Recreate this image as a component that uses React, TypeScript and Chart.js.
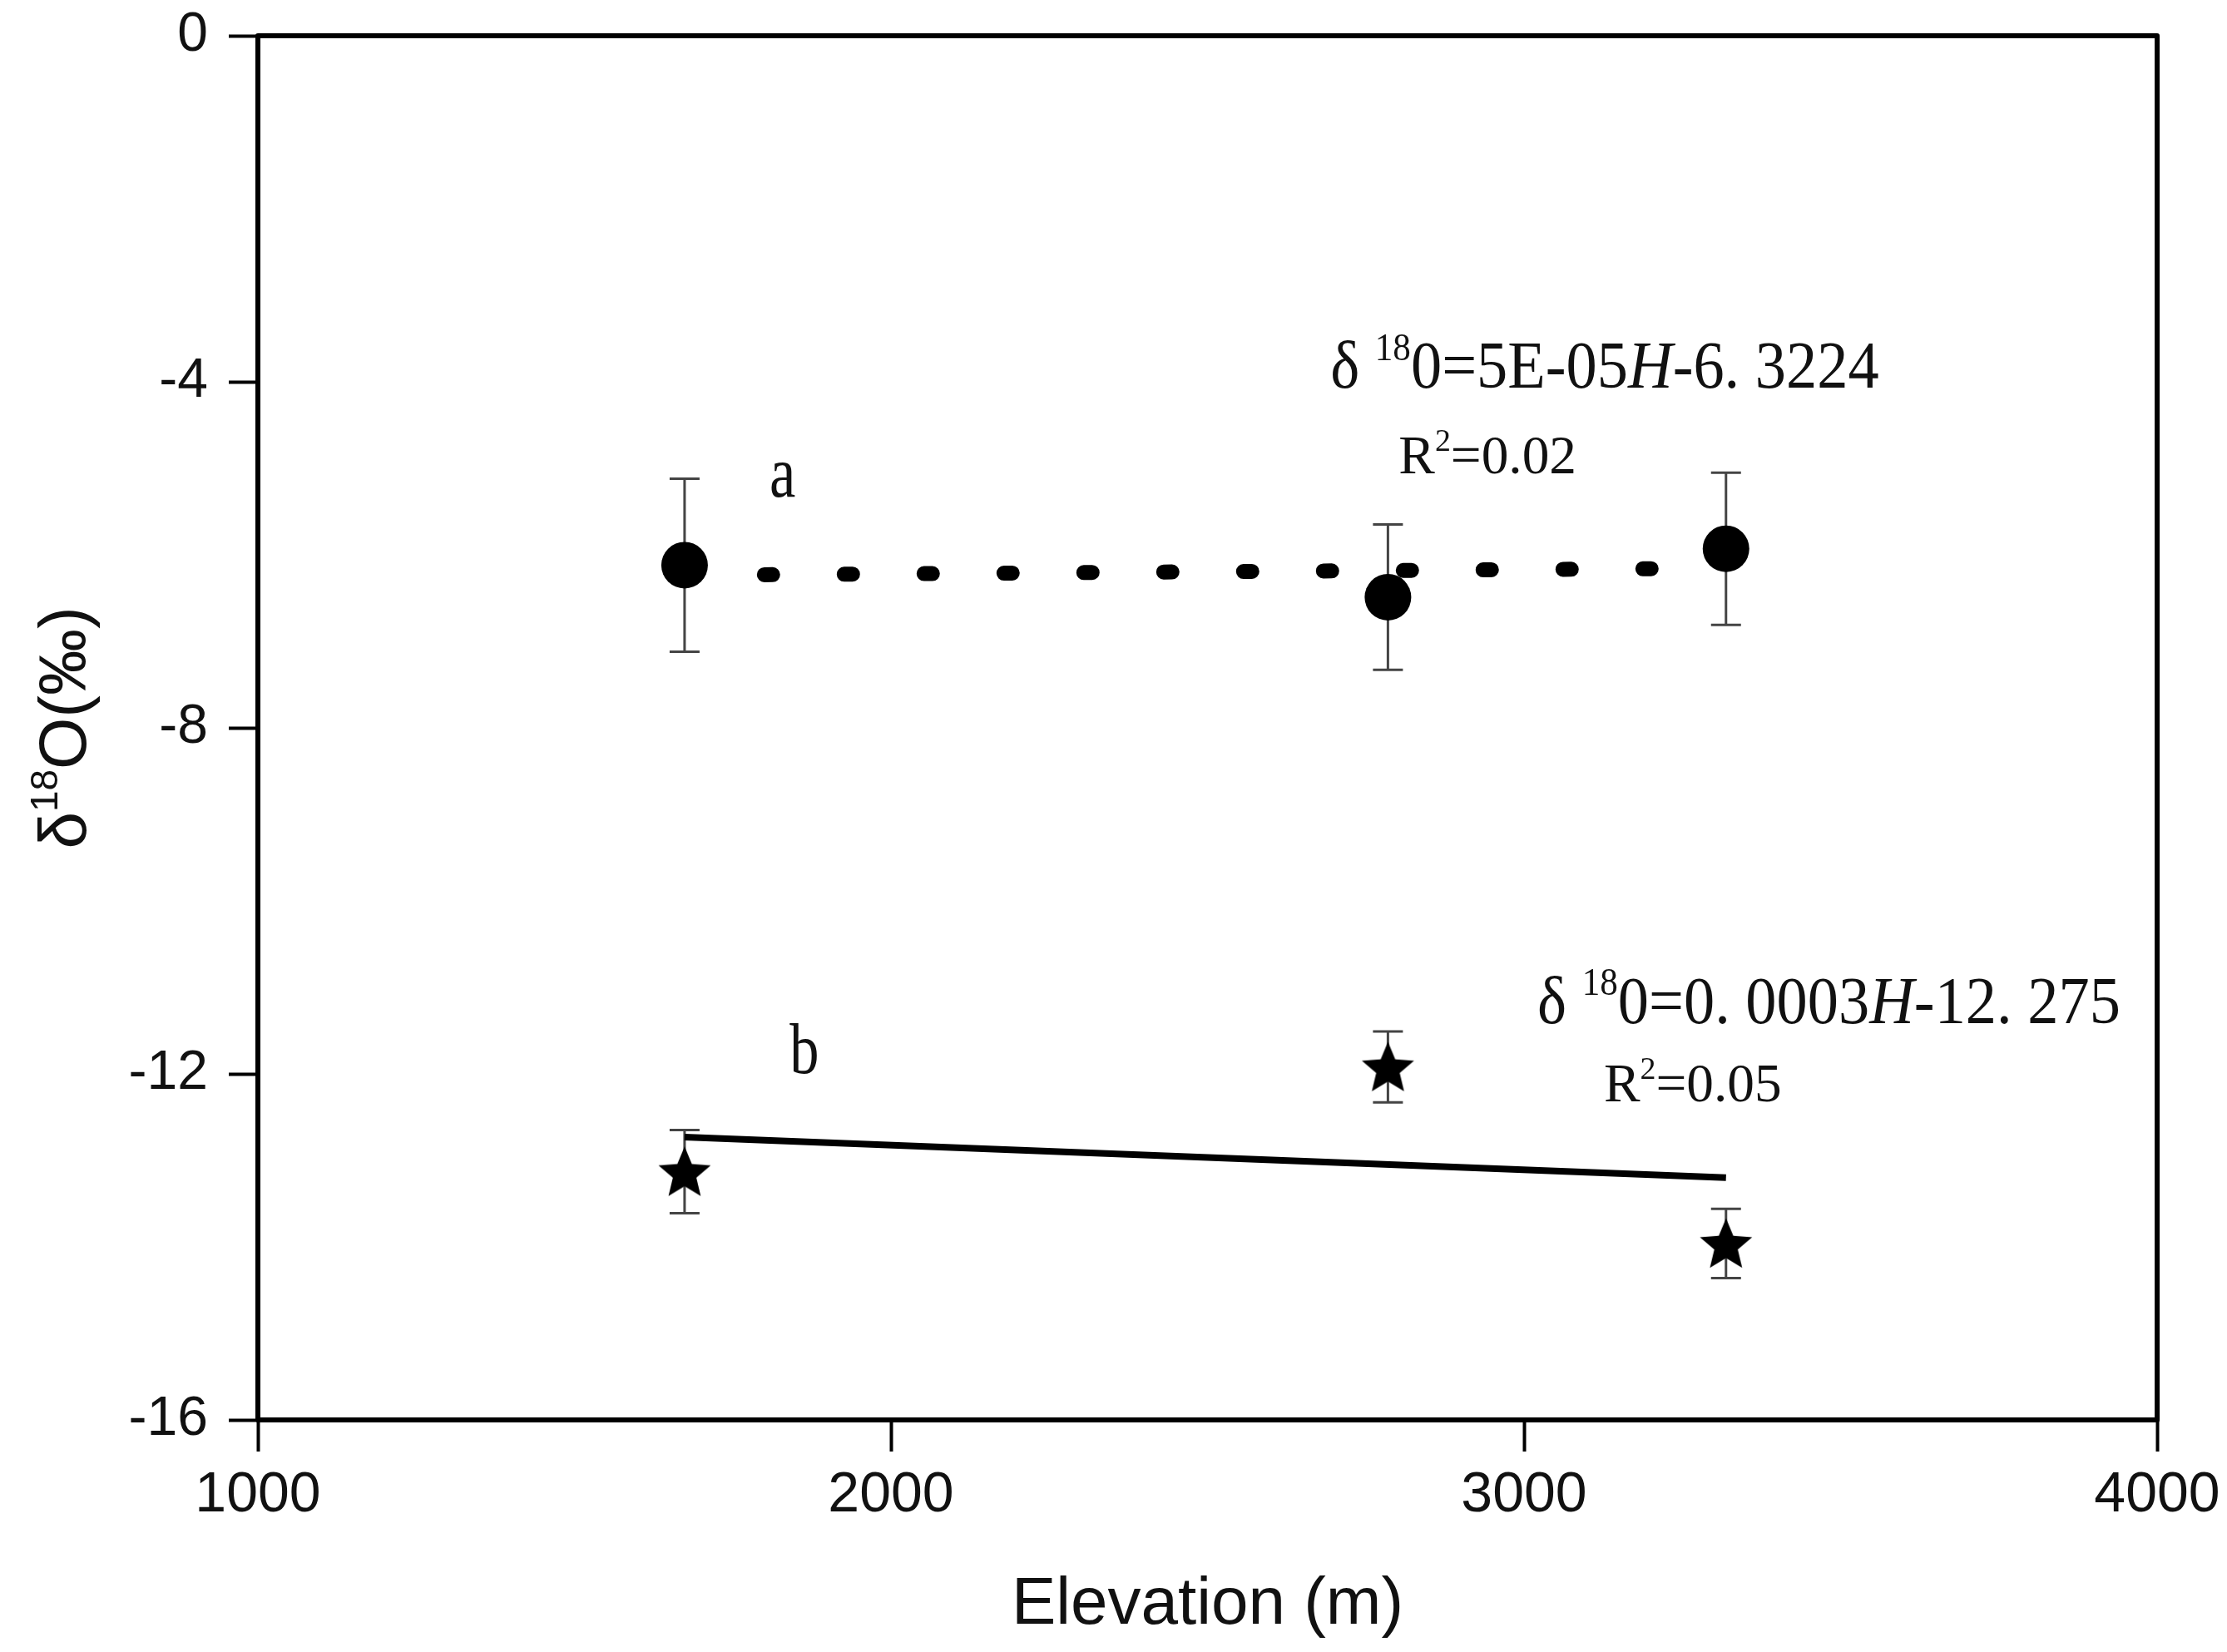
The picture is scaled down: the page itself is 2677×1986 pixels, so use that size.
import { useRef, useEffect } from "react";
import { Chart, registerables } from "chart.js";

Chart.register(...registerables);

// elevation of the three sites (m)
const elevations = [1674, 2785, 3319];

// series a (circles) and series b (stars), delta 18O in permil
const seriesA = [-6.12, -6.49, -5.93];
const errorsA = [1.0, 0.84, 0.88];
const seriesB = [-13.13, -11.92, -13.96];
const errorsB = [0.48, 0.41, 0.4];

// fitted lines
const trendAX = [1800, 3215];
const trendAY = [-6.23, -6.16];
const trendBX = [1674, 3319];
const trendBY = [-12.73, -13.2];

const xTicks = [1000, 2000, 3000, 4000];
const yTicks = [0, -4, -8, -12, -16];

// text inside the plot, anchored in data units (left edge, baseline)
const labelText = ["a", "b"];
const labelX = [1808, 1840];
const labelY = [-5.33, -11.99];

const eqMain = ["=5E-05", "=0. 0003"];
const eqTail = ["-6. 3224", "-12. 275"];
const eqX = [2694, 3021];
const eqY = [-4.07, -11.41];
const r2Text = ["0.02", "0.05"];
const r2X = [2802, 3126];
const r2Y = [-5.06, -12.32];

const serif = '"Liberation Serif", "DejaVu Serif", serif';
const sans = '"Liberation Sans", Arial, sans-serif';

// where the plot box should sit on the page
const AREA = { left: 310, right: 2593, top: 43, bottom: 1707 };

function makeStar(radius: number) {
  const size = Math.ceil(radius * 2 + 4);
  const c = document.createElement("canvas");
  c.width = size;
  c.height = size;
  const g = c.getContext("2d")!;
  const cx = size / 2;
  const cy = size / 2 + radius * 0.08;
  const inner = radius * 0.45;
  g.beginPath();
  for (let i = 0; i < 10; i++) {
    const r = i % 2 === 0 ? radius : inner;
    const a = -Math.PI / 2 + (i * Math.PI) / 5;
    const px = cx + r * Math.cos(a);
    const py = cy + r * Math.sin(a);
    if (i === 0) g.moveTo(px, py);
    else g.lineTo(px, py);
  }
  g.closePath();
  g.fillStyle = "#000";
  g.fill();
  return c;
}

type Part = { t: string; sup?: boolean; italic?: boolean };

function drawRich(
  ctx: CanvasRenderingContext2D,
  x: number,
  y: number,
  parts: Part[],
  size: number,
  squeeze: number
) {
  ctx.save();
  ctx.translate(x, y);
  ctx.scale(squeeze, 1);
  ctx.fillStyle = "#111";
  ctx.textAlign = "left";
  ctx.textBaseline = "alphabetic";
  let cx = 0;
  for (const p of parts) {
    const fs = p.sup ? size * 0.58 : size;
    ctx.font = `${p.italic ? "italic " : ""}${fs}px ${serif}`;
    ctx.fillText(p.t, cx, p.sup ? -size * 0.42 : 0);
    cx += ctx.measureText(p.t).width;
  }
  ctx.restore();
}

const overlay = {
  id: "overlay",
  beforeDatasetsDraw(chart: any) {
    const { ctx, scales } = chart;
    const xs = scales.x;
    const ys = scales.y;
    ctx.save();
    ctx.strokeStyle = "#444";
    ctx.lineWidth = 3;
    chart.data.datasets.forEach((ds: any) => {
      if (!ds.errors) return;
      ds.data.forEach((p: any, i: number) => {
        const px = xs.getPixelForValue(p.x);
        const top = ys.getPixelForValue(p.y + ds.errors[i]);
        const bot = ys.getPixelForValue(p.y - ds.errors[i]);
        const cap = 18;
        ctx.beginPath();
        ctx.moveTo(px, top);
        ctx.lineTo(px, bot);
        ctx.moveTo(px - cap, top);
        ctx.lineTo(px + cap, top);
        ctx.moveTo(px - cap, bot);
        ctx.lineTo(px + cap, bot);
        ctx.stroke();
      });
    });
    ctx.restore();
  },
  afterDatasetsDraw(chart: any) {
    const { ctx, scales, chartArea } = chart;
    const xs = scales.x;
    const ys = scales.y;

    // frame
    ctx.save();
    ctx.strokeStyle = "#000";
    ctx.lineWidth = 6;
    ctx.lineJoin = "round";
    ctx.strokeRect(
      chartArea.left,
      chartArea.top,
      chartArea.right - chartArea.left,
      chartArea.bottom - chartArea.top
    );
    ctx.restore();

    // a / b labels
    labelText.forEach((t, i) => {
      drawRich(ctx, xs.getPixelForValue(labelX[i]), ys.getPixelForValue(labelY[i]), [{ t }], 86, 0.82);
    });

    // regression equations
    eqMain.forEach((m, i) => {
      drawRich(
        ctx,
        xs.getPixelForValue(eqX[i]),
        ys.getPixelForValue(eqY[i]),
        [
          { t: "δ " },
          { t: "18", sup: true },
          { t: "0" + m },
          { t: "H", italic: true },
          { t: eqTail[i] },
        ],
        80,
        0.93
      );
      drawRich(
        ctx,
        xs.getPixelForValue(r2X[i]),
        ys.getPixelForValue(r2Y[i]),
        [{ t: "R" }, { t: "2", sup: true }, { t: "=" + r2Text[i] }],
        66,
        0.99
      );
    });
  },
  afterDraw(chart: any) {
    const { ctx, chartArea } = chart;
    ctx.save();
    ctx.fillStyle = "#111";

    // x title
    ctx.font = `80px ${sans}`;
    ctx.textAlign = "center";
    ctx.textBaseline = "alphabetic";
    ctx.fillText("Elevation (m)", (chartArea.left + chartArea.right) / 2, chartArea.bottom + 245);

    // y title, rotated
    const midY = (chartArea.top + chartArea.bottom) / 2;
    ctx.translate(103, midY);
    ctx.rotate(-Math.PI / 2);
    ctx.textAlign = "left";
    const pieces: Part[] = [{ t: "δ" }, { t: "18", sup: true }, { t: "O(‰)" }];
    let total = 0;
    for (const p of pieces) {
      ctx.font = `${p.sup ? 46 : 80}px ${sans}`;
      total += ctx.measureText(p.t).width;
    }
    let cx = -total / 2;
    for (const p of pieces) {
      ctx.font = `${p.sup ? 46 : 80}px ${sans}`;
      ctx.fillText(p.t, cx, p.sup ? -34 : 0);
      cx += ctx.measureText(p.t).width;
    }
    ctx.restore();
  },
};

export default function App() {
  const canvasRef = useRef<HTMLCanvasElement>(null);

  useEffect(() => {
    if (!canvasRef.current) return;
    document.body.style.margin = "0";

    const star = makeStar(33);

    const chart = new Chart(canvasRef.current, {
      type: "scatter",
      data: {
        datasets: [
          {
            type: "line",
            label: "fit a",
            data: trendAX.map((x, i) => ({ x, y: trendAY[i] })),
            borderColor: "#000",
            borderWidth: 18,
            borderDash: [10, 86],
            borderCapStyle: "round",
            pointRadius: 0,
            fill: false,
          },
          {
            type: "line",
            label: "fit b",
            data: trendBX.map((x, i) => ({ x, y: trendBY[i] })),
            borderColor: "#000",
            borderWidth: 8,
            pointRadius: 0,
            fill: false,
          },
          {
            label: "a",
            data: elevations.map((x, i) => ({ x, y: seriesA[i] })),
            errors: errorsA,
            pointStyle: "circle",
            pointRadius: 28,
            backgroundColor: "#000",
            borderColor: "#000",
            borderWidth: 0,
          } as any,
          {
            label: "b",
            data: elevations.map((x, i) => ({ x, y: seriesB[i] })),
            errors: errorsB,
            pointStyle: star,
            pointRadius: 33,
            backgroundColor: "#000",
            borderColor: "#000",
          } as any,
        ],
      },
      options: {
        animation: false,
        responsive: true,
        maintainAspectRatio: false,
        layout: { padding: 0 },
        plugins: {
          legend: { display: false },
          tooltip: { enabled: false },
        },
        scales: {
          x: {
            type: "linear",
            min: 1000,
            max: 4000,
            afterFit: (s: any) => {
              s.height = 1986 - AREA.bottom;
              s.paddingLeft = 0;
              s.paddingRight = 0;
            },
            afterBuildTicks: (s: any) => {
              s.ticks = xTicks.map((v) => ({ value: v }));
            },
            border: { display: false },
            grid: {
              drawOnChartArea: false,
              drawTicks: true,
              tickLength: 38,
              tickWidth: 4,
              tickColor: "#000",
            },
            ticks: {
              padding: 12,
              color: "#111",
              font: { family: sans, size: 68 },
              callback: (v: any) => String(v),
            },
          },
          y: {
            type: "linear",
            min: -16,
            max: 0,
            afterFit: (s: any) => {
              s.width = AREA.left;
              s.paddingTop = 0;
              s.paddingBottom = 0;
            },
            afterBuildTicks: (s: any) => {
              s.ticks = yTicks.map((v) => ({ value: v }));
            },
            border: { display: false },
            grid: {
              drawOnChartArea: false,
              drawTicks: true,
              tickLength: 35,
              tickWidth: 4,
              tickColor: "#000",
            },
            ticks: {
              padding: 25,
              color: "#111",
              font: { family: sans, size: 66 },
            },
          },
        },
      },
      plugins: [
        overlay,
        {
          id: "boxFix",
          beforeLayout(chart: any) {
            chart.options.layout.padding = {
              top: AREA.top,
              right: 2677 - AREA.right,
              left: 0,
              bottom: 0,
            };
          },
        },
      ],
    });

    return () => chart.destroy();
  }, []);

  return (
    <div style={{ width: 2677, height: 1986, position: "relative", background: "#fff" }}>
      <canvas ref={canvasRef}></canvas>
    </div>
  );
}
